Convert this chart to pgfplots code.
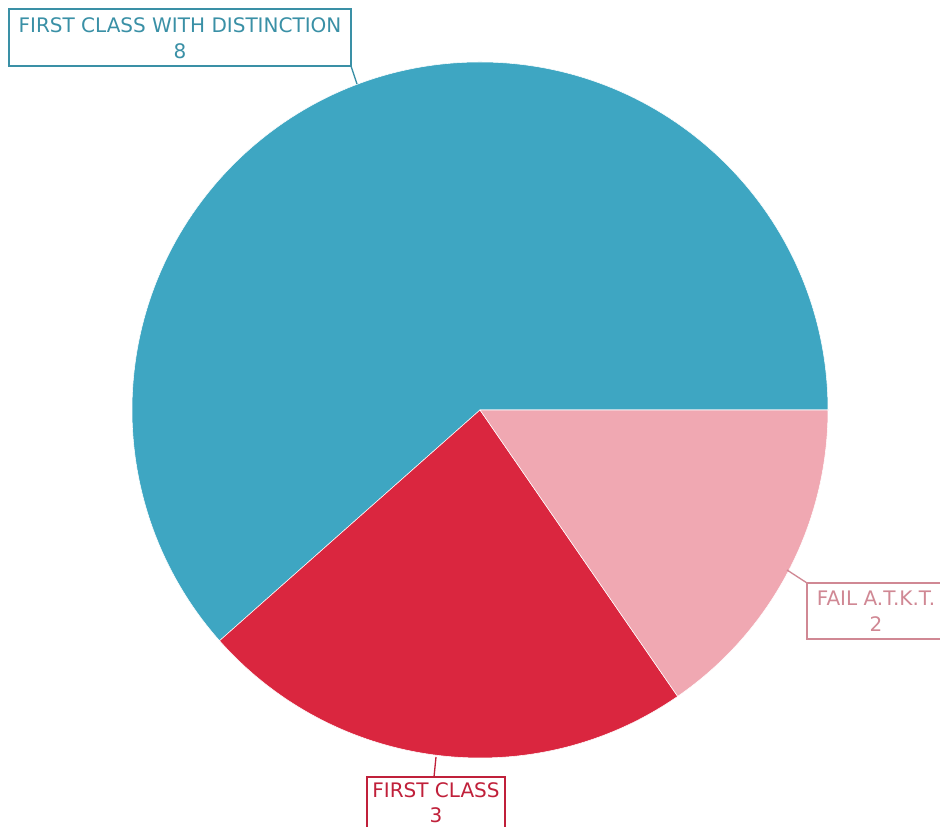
\documentclass[border=0pt]{standalone}
\usepackage{pgfplots}
\pgfplotsset{compat=1.18}
\usepackage{pgfplotstable}
\usepackage{fontspec}
\setmainfont{DejaVu Sans}

\definecolor{cdist}{RGB}{62,166,194}
\definecolor{cfirst}{RGB}{218,38,63}
\definecolor{cfail}{RGB}{240,168,178}
\definecolor{tdist}{RGB}{58,144,166}
\definecolor{tfirst}{RGB}{192,32,58}
\definecolor{tfail}{RGB}{208,136,148}

\pgfplotstableread{
label value
{FIRST CLASS WITH DISTINCTION} 8
{FIRST CLASS} 3
{FAIL A.T.K.T.} 2
}\grades

\begin{document}
\begin{tikzpicture}
\pgfplotstablegetelem{0}{value}\of\grades \let\va\pgfplotsretval
\pgfplotstablegetelem{1}{value}\of\grades \let\vb\pgfplotsretval
\pgfplotstablegetelem{2}{value}\of\grades \let\vc\pgfplotsretval
\pgfmathsetmacro\tot{\va+\vb+\vc}
\pgfmathsetmacro\aA{360*\va/\tot}
\pgfmathsetmacro\aB{\aA+360*\vb/\tot}
\begin{axis}[
    x=0.75pt, y=0.75pt,
    xmin=0, xmax=940, ymin=0, ymax=827,
    enlargelimits=false,
    hide axis,
    scale only axis,
]
\addplot[draw=none] coordinates {(0,0) (940,827)};
\coordinate (ll) at (axis cs:0,0);
\coordinate (ur) at (axis cs:940,827);

% slices, pie centre (480,417), radius 348 px
\fill[cdist, draw=white, line width=0.4pt] (axis cs:480,417) -- ++(0:261pt)
    arc[start angle=0, end angle=\aA, radius=261pt] -- cycle;
\fill[cfirst, draw=white, line width=0.4pt] (axis cs:480,417) -- ++(\aA:261pt)
    arc[start angle=\aA, end angle=\aB, radius=261pt] -- cycle;
\fill[cfail, draw=white, line width=0.4pt] (axis cs:480,417) -- ++(\aB:261pt)
    arc[start angle=\aB, end angle=360, radius=261pt] -- cycle;

% leader lines
\draw[tdist, line width=1pt] (axis cs:351,761) -- (axis cs:357,743);
\draw[tfirst, line width=1pt] (axis cs:436,70) -- (axis cs:434,50);
\draw[tfail, line width=1pt] (axis cs:787,257) -- (axis cs:807,244);

% label boxes
\draw[tdist, line width=1.7pt, fill=white] (axis cs:9,761) rectangle (axis cs:351,818);
\draw[tfirst, line width=1.7pt, fill=white] (axis cs:367,-20) rectangle (axis cs:505,50);
\draw[tfail, line width=1.7pt, fill=white] (axis cs:807,188) rectangle (axis cs:980,244);

\node[text=tdist, align=center, font=\fontsize{15}{19.5}\selectfont]
    at (axis cs:180,789) {FIRST CLASS WITH DISTINCTION\\\va};
\node[text=tfirst, align=center, font=\fontsize{15}{19}\selectfont]
    at (axis cs:436,24) {FIRST CLASS\\\vb};
\node[text=tfail, align=center, font=\fontsize{15}{19.5}\selectfont]
    at (axis cs:876,216) {FAIL A.T.K.T.\\\vc};
\end{axis}
\pgfresetboundingbox
\path (ll) rectangle (ur);
\end{tikzpicture}
\end{document}
